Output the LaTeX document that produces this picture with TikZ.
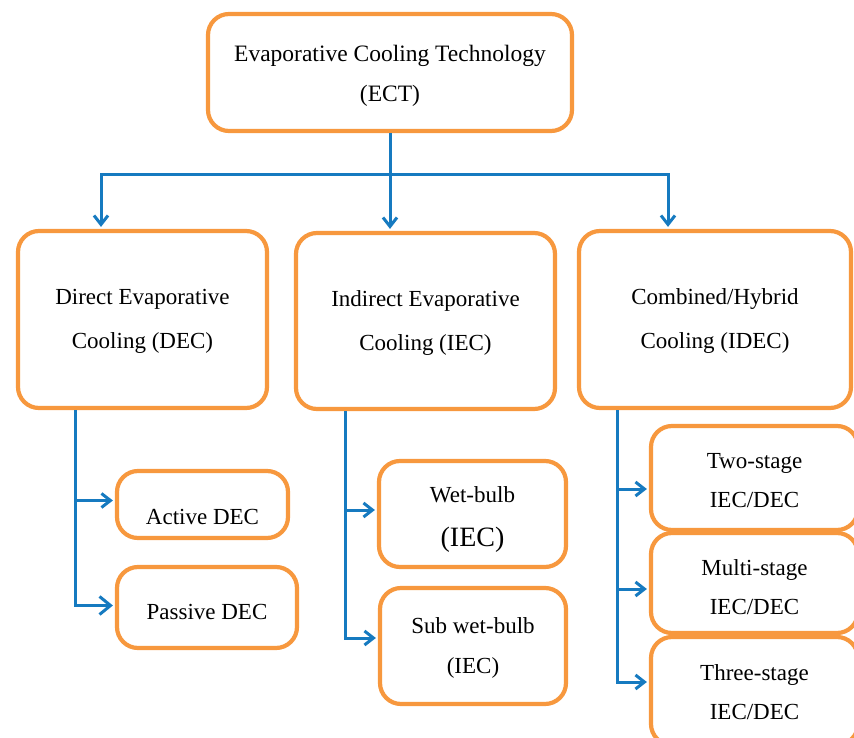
\documentclass[tikz,border=0pt]{standalone}
\usepackage{fontspec}
\setmainfont{Liberation Serif}
\usetikzlibrary{arrows.meta}
\definecolor{boxorange}{RGB}{247,152,62}
\definecolor{lineblue}{RGB}{22,122,192}
\begin{document}
\begin{tikzpicture}[x=1pt,y=-1pt,
  box/.style={draw=boxorange, line width=4.2pt, rounded corners=21pt, fill=white,
    inner sep=0pt},
  txt/.style={align=center, inner sep=0pt, font=\fontsize{23}{44}\selectfont},
  wire/.style={draw=lineblue, line width=3pt},
  conn/.style={wire, shorten >=2pt, -{Straight Barb[length=9pt,width=14pt,line width=3pt]}},
  bigconn/.style={wire, shorten >=2pt, -{Straight Barb[length=11pt,width=18pt,line width=3pt]}}]
\useasboundingbox (0,0) rectangle (854,738);
\clip (0,0) rectangle (854,738);

\node[box, minimum width=364pt, minimum height=117pt,
  label={[txt, font=\fontsize{23.5}{40}\selectfont, yshift=-3pt]center:{Evaporative Cooling Technology\\(ECT)}}]
  (top) at (390,72.5) {};

\node[box, minimum width=249pt, minimum height=177pt,
  label={[txt, yshift=-2pt]center:{Direct Evaporative\\Cooling (DEC)}}]
  (dec) at (142.5,319.5) {};
\node[box, minimum width=259pt, minimum height=176pt,
  label={[txt, yshift=-2pt]center:{Indirect Evaporative\\Cooling (IEC)}}]
  (iec) at (425.5,321) {};
\node[box, minimum width=272pt, minimum height=177pt,
  label={[txt, yshift=-2pt]center:{Combined/Hybrid\\Cooling (IDEC)}}]
  (idec) at (715,319.5) {};

\node[box, minimum width=171pt, minimum height=67pt,
  label={[txt, yshift=-12pt]center:{Active DEC}}]
  (active) at (202.5,504.5) {};
\node[box, minimum width=180pt, minimum height=81pt,
  label={[txt, yshift=-4pt]center:{Passive DEC}}]
  (passive) at (207,607.5) {};

\node[box, minimum width=187pt, minimum height=106pt,
  label={[txt, yshift=-5pt]center:{Wet-bulb\\{\fontsize{28}{44}\selectfont (IEC)}}}]
  (wet) at (472.5,514) {};
\node[box, minimum width=186pt, minimum height=116pt,
  label={[txt, yshift=-2pt, font=\fontsize{23}{40}\selectfont]center:{Sub wet-bulb\\(IEC)}}]
  (sub) at (473,646) {};

\node[box, minimum width=207pt, minimum height=104pt,
  label={[txt, yshift=-3pt, font=\fontsize{23}{39}\selectfont]center:{Two-stage\\IEC/DEC}}]
  (two) at (754.5,478) {};
\node[box, minimum width=207pt, minimum height=100pt,
  label={[txt, yshift=-4pt, font=\fontsize{23}{39}\selectfont]center:{Multi-stage\\IEC/DEC}}]
  (multi) at (754.5,583) {};
\node[box, minimum width=207pt, minimum height=108pt,
  label={[txt, yshift=-1pt, font=\fontsize{23}{39}\selectfont]center:{Three-stage\\IEC/DEC}}]
  (three) at (754.5,691) {};

% top distribution
\coordinate (j0) at (390,175);
\coordinate (jL) at (101,175);
\coordinate (jR) at (668,175);
\draw[wire] (top.south) -- (j0);
\draw[conn] (jR) -- (jL) -- (dec.north -| jL);
\draw[conn] (jL) -- (jR) -- (idec.north -| jR);
\draw[conn] (j0) -- (iec.north -| j0);

% DEC branches
\coordinate (dv) at (75,0);
\draw[conn] (dec.south -| dv) |- ([yshift=4pt]active.west);
\draw[bigconn] (dec.south -| dv) |- ([yshift=2pt]passive.west);

% IEC branches
\coordinate (iv) at (345,0);
\draw[conn] (iec.south -| iv) |- ([yshift=4pt]wet.west);
\draw[conn] (iec.south -| iv) |- ([yshift=8pt]sub.west);

% IDEC branches
\coordinate (hv) at (617,0);
\draw[conn] (idec.south -| hv) |- ([yshift=-11pt]two.west);
\draw[conn] (idec.south -| hv) |- ([yshift=-6pt]multi.west);
\draw[conn] (idec.south -| hv) |- ([yshift=9pt]three.west);
\end{tikzpicture}
\end{document}
